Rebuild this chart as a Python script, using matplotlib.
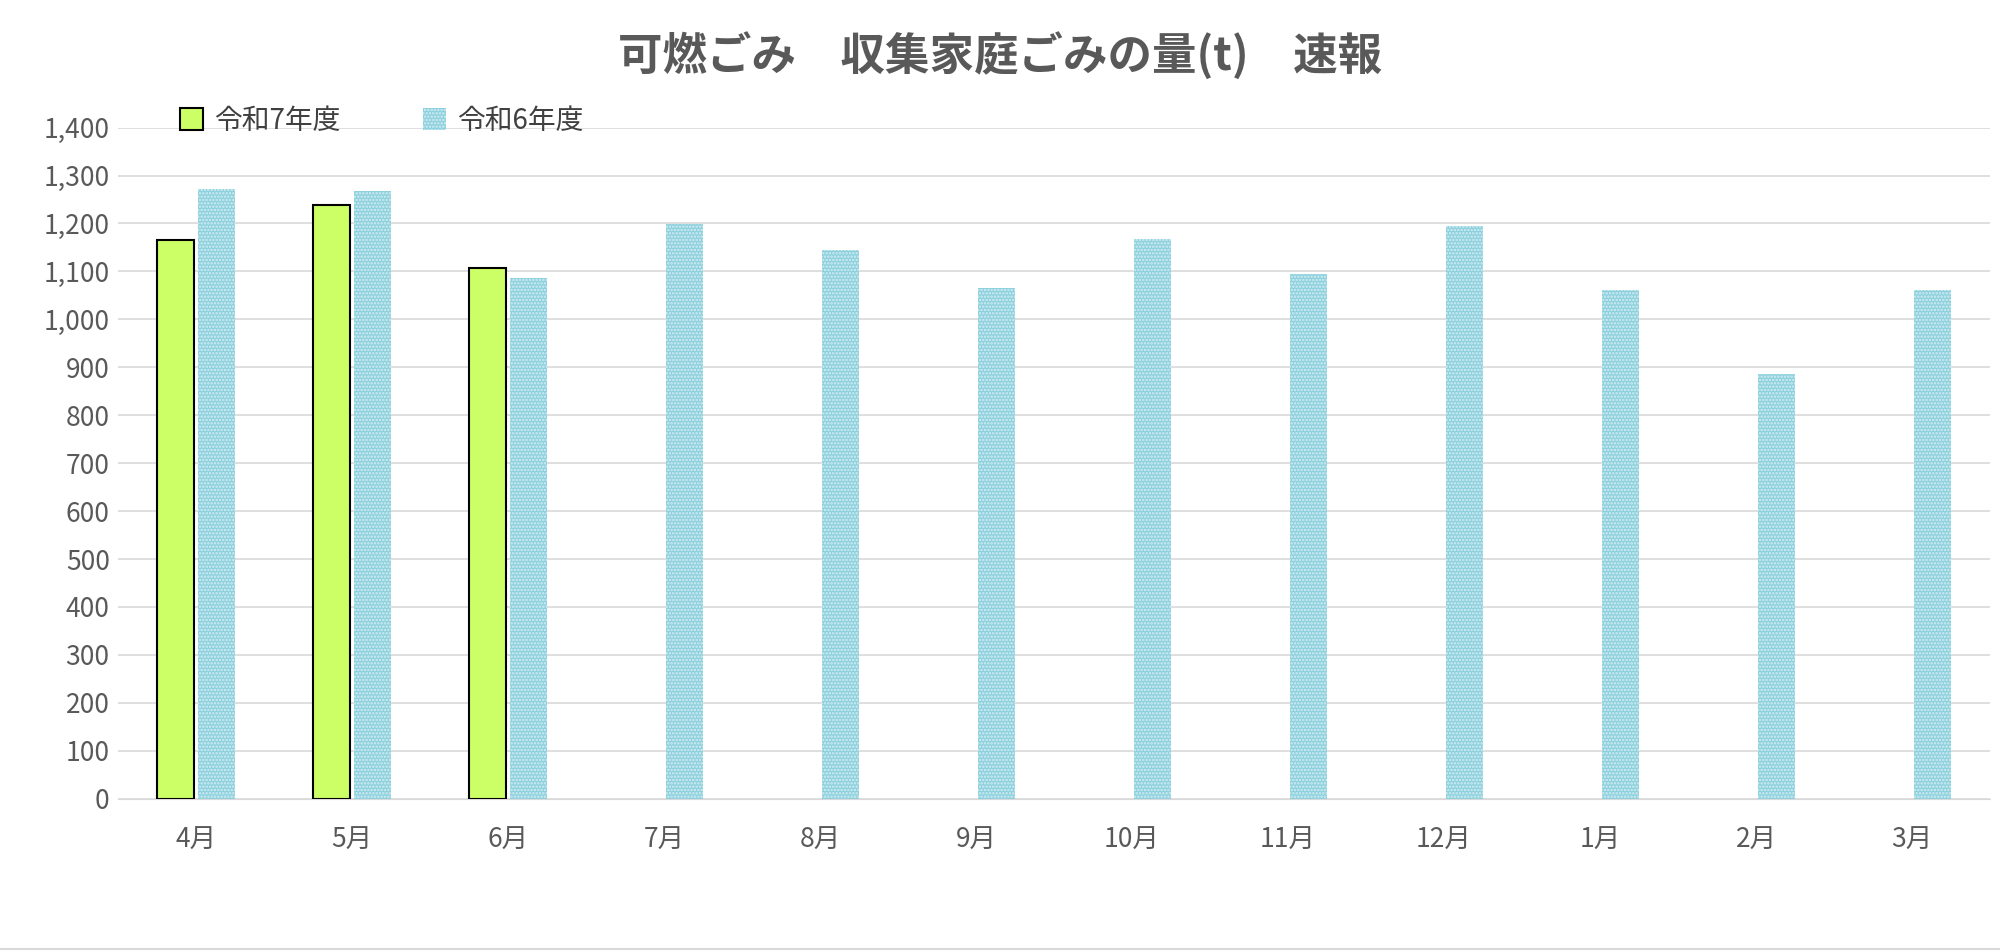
import matplotlib
matplotlib.use("Agg")
import matplotlib.pyplot as plt
import numpy as np

plt.rcParams['font.family'] = 'Noto Sans CJK JP'
plt.rcParams['hatch.linewidth'] = 1.2

months = ['4月','5月','6月','7月','8月','9月','10月','11月','12月','1月','2月','3月']
r7 = [1166, 1238, 1107]
r6 = [1272, 1267, 1086, 1198, 1145, 1065, 1168, 1094, 1195, 1062, 886, 1062]
yticks = list(range(0, 1401, 100))

fig = plt.figure(figsize=(20, 9.52), dpi=100)
ax = fig.add_axes([0.059, 0.161, 0.936, 0.705])
x = np.arange(len(months))
w = 0.24
ax.bar(x[:len(r7)] - w/2 - 0.012, r7, w, color='#ccff66', edgecolor='black', linewidth=1.5, label='令和7年度', zorder=3)
ax.bar(x + w/2 + 0.012, r6, w, color='#8ccfdd', edgecolor='#d4eff4', hatch='.....', linewidth=0, label='令和6年度', zorder=3)
ax.set_xlim(-0.5, len(months) - 0.5)
ax.set_ylim(0, 1400)
ax.set_yticks(yticks)
ax.set_yticklabels([f'{v:,}' for v in yticks])
ax.set_xticks(x)
ax.set_xticklabels(months)
ax.tick_params(axis='both', length=0, labelsize=19, colors='#595959')
ax.tick_params(axis='x', pad=20)
ax.tick_params(axis='y', pad=6)
ax.grid(axis='y', color='#d9d9d9', linewidth=1.2, zorder=0)
for s in ['top', 'right', 'left']:
    ax.spines[s].set_visible(False)
ax.spines['bottom'].set_color('#d9d9d9')
ax.legend(loc='upper left', bbox_to_anchor=(0.02, 1.07), ncol=2, frameon=False, fontsize=20,
          labelcolor='#404040', columnspacing=3, handlelength=0.8, handleheight=0.8, handletextpad=0.4)
fig.text(0.5, 0.94, '可燃ごみ　収集家庭ごみの量(t)　速報', ha='center', va='center',
         fontsize=32, fontweight='bold', color='#595959')
fig.add_artist(plt.Line2D([0, 1], [0.003, 0.003], color='#d9d9d9', linewidth=1.5))
fig.savefig('out.png', dpi=100)
